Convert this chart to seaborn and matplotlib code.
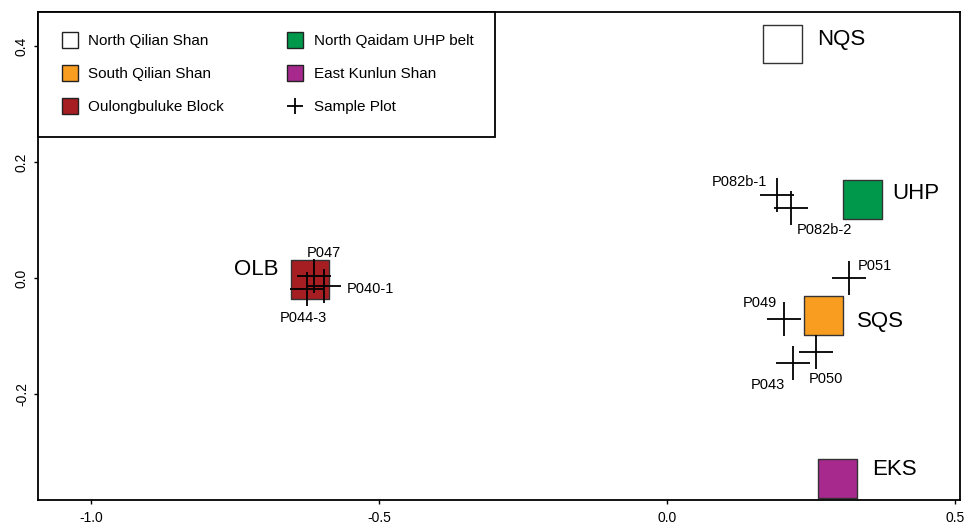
import pandas as pd
import matplotlib.pyplot as plt
import seaborn as sns
from matplotlib.lines import Line2D

# terrane fields (squares)
regions = ['NQS', 'UHP', 'SQS', 'OLB', 'EKS']
region_names = ['North Qilian Shan', 'North Qaidam UHP belt', 'South Qilian Shan',
                'Oulongbuluke Block', 'East Kunlun Shan']
region_x = [0.200, 0.339, 0.272, -0.620, 0.296]
region_y = [0.404, 0.135, -0.064, -0.003, -0.345]
region_colors = ['#ffffff', '#00994c', '#f89d1f', '#a61e22', '#a8298e']

# samples (crosses)
samples = ['P082b-1', 'P082b-2', 'P051', 'P049', 'P050', 'P043', 'P047', 'P040-1', 'P044-3']
sample_x = [0.191, 0.215, 0.315, 0.202, 0.259, 0.218, -0.613, -0.595, -0.625]
sample_y = [0.143, 0.121, 0.000, -0.071, -0.128, -0.146, 0.003, -0.014, -0.019]

# label offsets in points (dx, dy, ha)
region_lab = {'NQS': (25, -0.7, 'left'), 'UHP': (21.6, 0.7, 'left'), 'SQS': (24, -8.6, 'left'),
              'OLB': (-23, 3.6, 'right'), 'EKS': (24.8, 2.5, 'left')}
sample_lab = {'P082b-1': (-7.2, 6.5, 'right'), 'P082b-2': (4.3, -18.7, 'left'),
              'P051': (6.5, 5.8, 'left'), 'P049': (-5, 8.6, 'right'),
              'P050': (-5.8, -22.3, 'left'), 'P043': (-5.8, -18.7, 'right'),
              'P047': (-5.3, 13.7, 'left'), 'P040-1': (15.8, -5, 'left'),
              'P044-3': (-20, -23.5, 'left')}

reg = pd.DataFrame({'region': regions, 'name': region_names, 'x': region_x, 'y': region_y})
smp = pd.DataFrame({'sample': samples, 'x': sample_x, 'y': sample_y})

sns.set_style('ticks')
plt.rcParams['font.family'] = ['Liberation Sans', 'DejaVu Sans']
plt.rcParams['text.color'] = 'black'
plt.rcParams['xtick.color'] = 'black'
plt.rcParams['ytick.color'] = 'black'
plt.rcParams['axes.edgecolor'] = 'black'

fig = plt.figure(figsize=(9.75, 5.27), dpi=100)
ax = fig.add_axes([0.039, 0.051, 0.946, 0.926])

pal = dict(zip(regions, region_colors))
sns.scatterplot(data=reg, x='x', y='y', hue='region', palette=pal, marker='s', s=784,
                edgecolor='#333333', linewidth=1, legend=False, ax=ax, zorder=2)
sns.scatterplot(data=smp, x='x', y='y', marker='+', s=576, color='black',
                linewidth=1.3, legend=False, ax=ax, zorder=3)

for r, x, y in zip(regions, region_x, region_y):
    dx, dy, ha = region_lab[r]
    ax.annotate(r, (x, y), xytext=(dx, dy), textcoords='offset points',
                ha=ha, va='baseline', fontsize=16, color='black')
for s_, x, y in zip(samples, sample_x, sample_y):
    dx, dy, ha = sample_lab[s_]
    ax.annotate(s_, (x, y), xytext=(dx, dy), textcoords='offset points',
                ha=ha, va='baseline', fontsize=10.5, color='black')

ax.set_xlim(-1.092, 0.509)
ax.set_ylim(-0.383, 0.459)
ax.set_xticks([-1.0, -0.5, 0.0, 0.5])
ax.set_yticks([-0.2, 0.0, 0.2, 0.4])
ax.set_xticklabels(['-1.0', '-0.5', '0.0', '0.5'])
ax.set_yticklabels(['-0.2', '0.0', '0.2', '0.4'], rotation=90, va='center')
ax.tick_params(labelsize=10, length=3, width=1, color='black', labelcolor='black')
ax.tick_params(axis='x', pad=5)
ax.set_xlabel('')
ax.set_ylabel('')
for sp in ax.spines.values():
    sp.set_linewidth(1.3)
    sp.set_color('black')

# legend: column-wise fill
order = [0, 2, 3, 1, 4]
handles = [Line2D([], [], marker='s', linestyle='', markersize=11.5,
                  markerfacecolor=region_colors[i], markeredgecolor='#222222',
                  markeredgewidth=1, label=region_names[i]) for i in order]
handles.append(Line2D([], [], marker='+', linestyle='', markersize=12, color='black',
                      markeredgewidth=1.3, label='Sample Plot'))
leg = ax.legend(handles=handles, ncol=2, loc='upper left', bbox_to_anchor=(0, 1),
                borderaxespad=0, fontsize=11, frameon=True, fancybox=False,
                edgecolor='black', framealpha=1, labelspacing=1.25, columnspacing=4.0,
                handlelength=1.3, handletextpad=0.55, borderpad=1.45)
leg.get_frame().set_linewidth(1.3)
for t in leg.get_texts():
    t.set_color('black')

plt.savefig('out.png', dpi=100)
